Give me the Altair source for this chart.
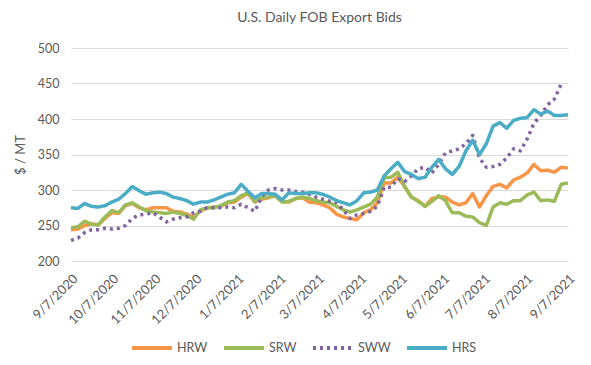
import altair as alt
import pandas as pd

start = pd.Timestamp("2020-09-07")
n_points = 74
step_days = 5

hrw = [244, 245, 250, 252, 251, 260, 268, 267, 278, 281,
       275, 272, 275, 275, 275, 270, 269, 266, 262, 270,
       275, 276, 277, 282, 283, 290, 295, 283, 287, 289,
       292, 284, 283, 288, 289, 283, 282, 279, 275, 266,
       262, 260, 258, 268, 272, 282, 310, 310, 318, 305,
       290, 285, 277, 288, 290, 290, 283, 279, 282, 295,
       276, 292, 305, 308, 303, 314, 318, 324, 336, 327,
       328, 325, 332, 331]
srw = [247, 248, 256, 252, 251, 262, 271, 268, 279, 282,
       276, 271, 269, 268, 267, 269, 267, 264, 259, 272,
       275, 275, 278, 283, 285, 292, 296, 284, 289, 290,
       292, 283, 284, 288, 290, 288, 285, 283, 282, 277,
       272, 269, 272, 276, 280, 290, 317, 318, 325, 305,
       290, 284, 277, 284, 292, 285, 268, 268, 263, 262,
       254, 250, 276, 282, 280, 285, 285, 293, 297, 285,
       286, 284, 308, 310]
sww = [229, 232, 240, 244, 244, 246, 245, 246, 250, 260,
       265, 266, 268, 262, 255, 259, 261, 262, 268, 270,
       275, 275, 275, 276, 275, 280, 275, 270, 290, 300,
       302, 300, 300, 298, 297, 294, 290, 287, 284, 282,
       272, 260, 265, 267, 270, 277, 304, 304, 316, 312,
       320, 330, 332, 324, 336, 352, 355, 358, 365, 377,
       345, 332, 333, 336, 345, 358, 355, 372, 394, 405,
       420, 428, 449, None]
hrs = [275, 274, 281, 277, 276, 278, 283, 287, 295, 305,
       299, 294, 296, 297, 295, 290, 288, 285, 280, 283,
       283, 286, 290, 294, 296, 308, 298, 289, 295, 295,
       294, 286, 296, 295, 295, 296, 296, 294, 290, 285,
       282, 279, 285, 296, 297, 300, 320, 330, 339, 326,
       322, 316, 318, 332, 343, 330, 322, 333, 355, 370,
       350, 365, 390, 395, 387, 398, 401, 402, 413, 407,
       411, 405, 405, 406]

series_names = ["HRW", "SRW", "SWW", "HRS"]
series_values = [hrw, srw, sww, hrs]
series_colors = ["#F79646", "#9BBB59", "#8064A2", "#4BACC6"]
series_dash = [[1, 0], [1, 0], [3, 4], [1, 0]]

tick_dates = ["2020-09-07", "2020-10-07", "2020-11-07", "2020-12-07",
              "2021-01-07", "2021-02-07", "2021-03-07", "2021-04-07",
              "2021-05-07", "2021-06-07", "2021-07-07", "2021-08-07",
              "2021-09-07"]

dates = [start + pd.Timedelta(days=step_days * k) for k in range(n_points)]
rows = []
for name, vals in zip(series_names, series_values):
    for d, v in zip(dates, vals):
        if v is not None:
            rows.append({"date": d.strftime("%Y-%m-%d"), "series": name, "value": v})
df = pd.DataFrame(rows)

def dt(s):
    y, m, d = map(int, s.split("-"))
    return alt.DateTime(year=y, month=m, date=d, utc=True)

FONT = "Lato"
GRAY = "#595959"

chart = alt.Chart(df).mark_line(strokeWidth=3.5, strokeJoin="round").encode(
    x=alt.X("date:T",
            scale=alt.Scale(type="utc", domain=[dt("2020-09-07"), dt("2021-09-07")]),
            axis=alt.Axis(values=[dt(s) for s in tick_dates], format="%-m/%-d/%Y",
                          labelAngle=-45, labelAlign="right", labelBaseline="top",
                          labelPadding=11, labelFontSize=13, labelColor=GRAY,
                          labelFont=FONT, grid=False, domain=False, ticks=False,
                          title=None, labelOverlap=False)),
    y=alt.Y("value:Q",
            scale=alt.Scale(domain=[200, 500], nice=False, zero=False),
            axis=alt.Axis(values=[200, 250, 300, 350, 400, 450, 500],
                          title="$ / MT", titleFont=FONT, titleFontSize=13,
                          titleFontWeight="normal", titleColor=GRAY, titlePadding=10,
                          labelFont=FONT, labelFontSize=12.5, labelColor=GRAY,
                          labelPadding=12, grid=True, gridColor="#D9D9D9",
                          gridWidth=1, domain=False, ticks=False)),
    color=alt.Color("series:N",
                    scale=alt.Scale(domain=series_names, range=series_colors),
                    sort=series_names,
                    legend=alt.Legend(title=None, orient="none", direction="horizontal",
                                      legendX=59, legendY=278, symbolType="stroke",
                                      symbolSize=1600, symbolStrokeWidth=4,
                                      labelFont=FONT, labelFontSize=12.5, labelColor=GRAY,
                                      columnPadding=8, labelOffset=3)),
    strokeDash=alt.StrokeDash("series:N",
                              scale=alt.Scale(domain=series_names, range=series_dash),
                              sort=series_names, legend=None),
    order=alt.Order("date:T"),
).properties(
    width=497, height=213,
    title=alt.TitleParams("U.S. Daily FOB Export Bids", font=FONT, fontSize=14,
                          fontWeight="normal", color=GRAY, anchor="middle", offset=17),
    autosize=alt.AutoSizeParams(type="none"),
    padding={"left": 63, "top": 40, "right": 15, "bottom": 100},
).configure_view(stroke=None)

chart.save("out.html", embed_options={"renderer": "svg", "actions": False})
